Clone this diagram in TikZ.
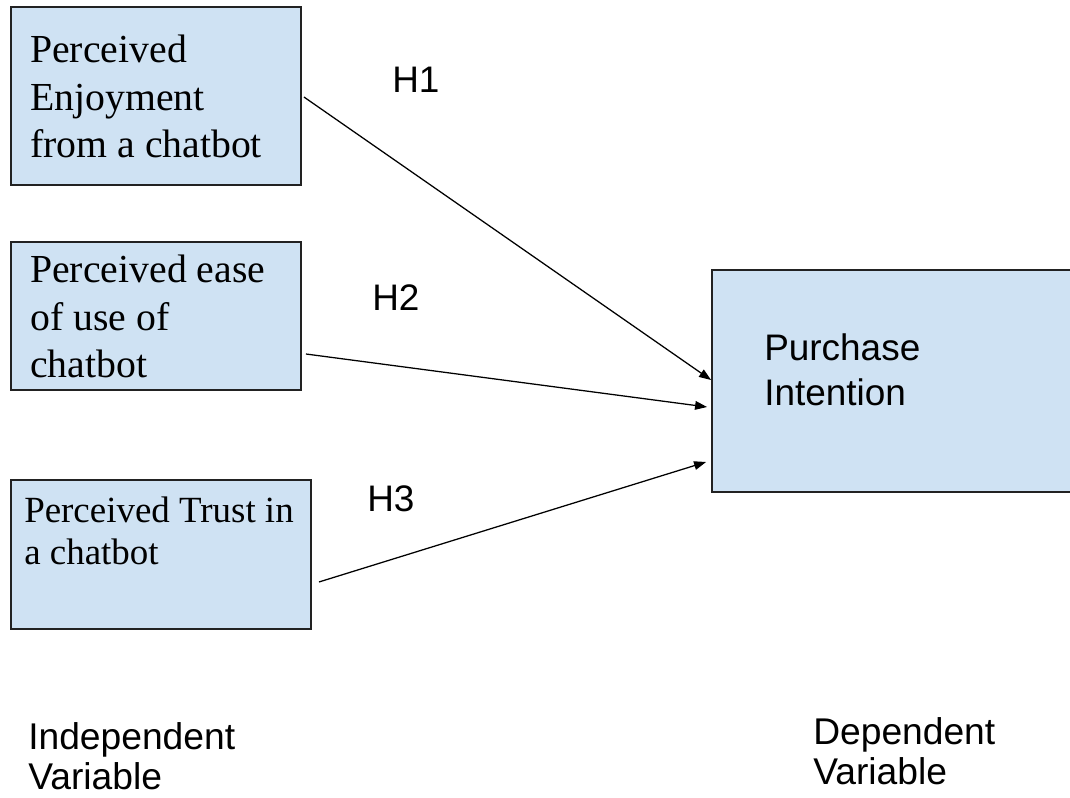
\documentclass[tikz,border=0pt]{standalone}
\usepackage{fontspec}
\setmainfont{Liberation Serif}
\setsansfont{Liberation Sans}
\usetikzlibrary{calc,arrows.meta}
\definecolor{boxfill}{HTML}{CFE2F3}
\definecolor{boxline}{HTML}{222222}
\tikzset{
  box/.style={draw=boxline, fill=boxfill, line width=1.4pt, inner sep=0pt, rectangle},
  serifA/.style={anchor=base west, inner sep=0pt, align=left, font={\rmfamily\fontsize{29.8}{35.8}\selectfont}},
  serifB/.style={anchor=base west, inner sep=0pt, align=left, font={\rmfamily\fontsize{27.7}{31.5}\selectfont}},
  sanslbl/.style={anchor=base west, inner sep=0pt, align=left, font={\sffamily\fontsize{27.7}{33.7}\selectfont}},
  sansfoot/.style={anchor=base west, inner sep=0pt, align=left, font={\sffamily\fontsize{27.9}{30}\selectfont}},
  conn/.style={line width=0.95pt, -{Triangle[length=9pt,width=6.5pt]}}
}
\begin{document}
\begin{tikzpicture}[x=0.75pt,y=-0.75pt]
\clip (0,0) rectangle (1070,798);
\fill[white] (0,0) rectangle (1070,798);
% boxes
\node[box, minimum width=217.5pt, minimum height=133.5pt] (b1) at (156,96) {};
\node[box, minimum width=217.5pt, minimum height=111pt] (b2) at (156,316) {};
\node[box, minimum width=225pt, minimum height=111.75pt] (b3) at (161,554.5) {};
\node[box, minimum width=276pt, minimum height=166.5pt] (b4) at (896,381) {};
% box texts (anchor = baseline of last line)
\node[serifA] (t1) at (30,158) {Perceived\\Enjoyment\\from a chatbot};
\node[serifA] (t2) at (30,378) {Perceived ease\\of use of\\chatbot};
\node[serifB] (t3) at (24,564) {Perceived Trust in\\a chatbot};
\node[sanslbl] (t4) at (764,405) {Purchase\\Intention};
% hypothesis labels
\node[sanslbl] (h1) at (392,93) {H1};
\node[sanslbl] (h2) at (372,311) {H2};
\node[sanslbl] (h3) at (367,511) {H3};
% footers
\node[sansfoot] (iv) at (28,789) {Independent\\Variable};
\node[sansfoot] (dv) at (813,784) {Dependent\\Variable};
% connectors
\coordinate (s1) at ($(b1.east)+(2,1)$);
\coordinate (e1) at ($(b4.west)+(0,-1)$);
\coordinate (s2) at ($(b2.east)+(4,38)$);
\coordinate (e2) at ($(b4.west)+(-4,26)$);
\coordinate (s3) at ($(b3.east)+(7,27.5)$);
\coordinate (e3) at ($(b4.west)+(-5,81)$);
\draw[conn] (s1) -- (e1);
\draw[conn] (s2) -- (e2);
\draw[conn] (s3) -- (e3);
\end{tikzpicture}
\end{document}
